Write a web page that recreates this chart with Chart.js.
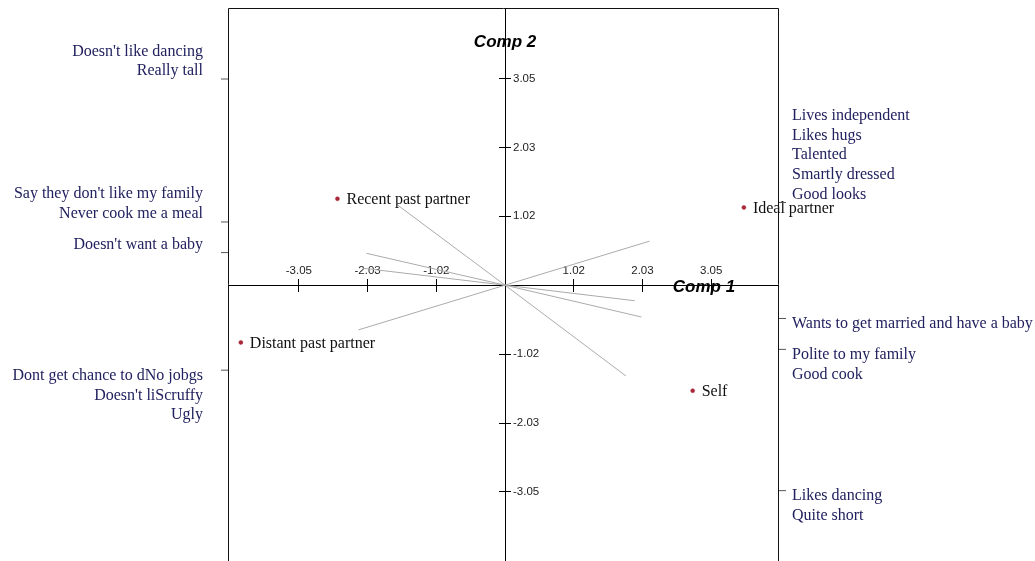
<!DOCTYPE html>
<html><head><meta charset="utf-8">
<script src="https://cdn.jsdelivr.net/npm/chart.js@4/dist/chart.umd.min.js"></script>
<style>html,body{margin:0;padding:0;background:#fff;} #wrap{width:1035px;height:561px;}</style>
</head><body><div id="wrap"><canvas id="c" width="1035" height="561"></canvas></div>
<script>
// ---- data ----
const pointNames = ['Recent past partner', 'Ideal partner', 'Distant past partner', 'Self'];
const pointX = [-2.48, 3.535, -3.91, 2.777];
const pointY = [1.275, 1.147, -0.845, -1.557];

const vectorX = [-1.60, -2.05, -2.10, -2.17, 2.14, 1.92, 2.02, 1.79];
const vectorY = [1.19, 0.47, 0.25, -0.66, 0.65, -0.23, -0.47, -1.34];
const vectorLabels = [
  ["Doesn't like dancing", "Really tall"],
  ["Say they don't like my family", "Never cook me a meal"],
  ["Doesn't want a baby"],
  ["Dont get chance to dNo jobgs", "Doesn't liScruffy", "Ugly"],
  ["Lives independent", "Likes hugs", "Talented", "Smartly dressed", "Good looks"],
  ["Wants to get married and have a baby"],
  ["Polite to my family", "Good cook"],
  ["Likes dancing", "Quite short"]
];

const tickValues = [-3.051, -2.034, -1.017, 1.017, 2.034, 3.051];
const tickLabels = ['-3.05', '-2.03', '-1.02', '1.02', '2.03', '3.05'];
const axisTitles = ['Comp 1', 'Comp 2'];

// ---- chart ----
const SERIF = '"Liberation Serif", "Times New Roman", serif';
const SANS = '"Liberation Sans", Arial, sans-serif';
const tickFont = {family: SANS, size: 11.5};
const setTicks = s => { s.ticks = tickValues.map(v => ({value: v})); };
const noPad = s => { s.paddingLeft = 0; s.paddingRight = 0; s.paddingTop = 0; s.paddingBottom = 0; };
const X_RANGE = {min: -4.1, max: 4.04};
const Y_RANGE = {min: -4.07, max: 4.09};

const datasets = vectorX.map((vx, i) => ({
  type: 'scatter',
  data: [{x: 0, y: 0}, {x: vx, y: vectorY[i]}],
  showLine: true,
  borderColor: '#ababab',
  borderWidth: 1,
  pointRadius: 0,
  pointHoverRadius: 0
}));
datasets.push({
  type: 'scatter',
  data: pointX.map((x, i) => ({x, y: pointY[i]})),
  pointRadius: 2,
  pointBorderWidth: 0.5,
  pointBackgroundColor: '#a8283a',
  pointBorderColor: '#a8283a',
  borderWidth: 0
});
const POINTS_INDEX = datasets.length - 1;

const overlay = {
  id: 'overlay',
  beforeDraw(chart) {
    const ys = chart.scales.y;
    const x0 = chart.scales.x.getPixelForValue(0);
    ys.getLabelItems().forEach(it => {
      it.options.textAlign = 'left';
      it.options.translation[0] = x0 + 8;
    });
  },
  afterDraw(chart) {
    const ctx = chart.ctx;
    const {left, right, top, bottom} = chart.chartArea;
    const xs = chart.scales.x, ys = chart.scales.y;
    ctx.save();
    // frame
    ctx.strokeStyle = '#111';
    ctx.lineWidth = 1;
    ctx.beginPath();
    ctx.moveTo(left + 0.5, bottom);
    ctx.lineTo(left + 0.5, top + 0.5);
    ctx.lineTo(right + 0.5, top + 0.5);
    ctx.lineTo(right + 0.5, bottom);
    ctx.stroke();

    // axis titles
    ctx.fillStyle = '#000';
    ctx.font = 'italic bold 17px ' + SANS;
    ctx.textAlign = 'center';
    ctx.textBaseline = 'middle';
    ctx.fillText(axisTitles[0], right - 74, ys.getPixelForValue(0) + 2);
    ctx.fillText(axisTitles[1], xs.getPixelForValue(0), top + 34);

    // point labels
    const meta = chart.getDatasetMeta(POINTS_INDEX);
    ctx.font = '16px ' + SERIF;
    ctx.textAlign = 'left';
    ctx.fillStyle = '#111';
    meta.data.forEach((el, i) => {
      ctx.fillText(pointNames[i], el.x + 9, el.y + 1);
    });

    // construct pole labels at the border where each vector direction meets it
    const LH = 19.7;
    vectorX.forEach((vx, i) => {
      const vy = vectorY[i];
      const bx = vx < 0 ? xs.min : xs.max;
      const by = vy * bx / vx;
      const py = ys.getPixelForValue(by);
      const px = xs.getPixelForValue(bx);
      const lines = vectorLabels[i];
      ctx.strokeStyle = '#555';
      ctx.beginPath();
      if (vx < 0) { ctx.moveTo(px - 7, py + 0.5); ctx.lineTo(px, py + 0.5); }
      else { ctx.moveTo(px + 1, py + 0.5); ctx.lineTo(px + 8, py + 0.5); }
      ctx.stroke();
      ctx.fillStyle = '#21215f';
      ctx.font = '16px ' + SERIF;
      ctx.textAlign = vx < 0 ? 'right' : 'left';
      const tx = vx < 0 ? px - 25 : px + 14;
      let y0 = by > 0 ? py - 7.5 - (lines.length - 1) * LH : py + 6;
      lines.forEach((t, k) => ctx.fillText(t, tx, y0 + k * LH));
    });
    ctx.restore();
  }
};

new Chart(document.getElementById('c'), {
  type: 'scatter',
  data: {datasets},
  options: {
    responsive: false,
    animation: false,
    events: [],
    layout: {autoPadding: false, padding: {left: 228, right: 257, top: 8, bottom: 0}},
    plugins: {legend: {display: false}, tooltip: {enabled: false}},
    scales: {
      x: {
        type: 'linear', axis: 'x', ...X_RANGE, position: {y: 0},
        afterBuildTicks: setTicks, afterFit: noPad,
        border: {display: true, color: '#000', width: 1},
        grid: {drawOnChartArea: false, drawTicks: true, tickLength: 6, color: '#000'},
        ticks: {autoSkip: false, maxRotation: 0, padding: -27, color: '#222', font: tickFont,
                callback: (v, i) => tickLabels[i]}
      },
      x2: {
        type: 'linear', axis: 'x', ...X_RANGE, position: {y: 0},
        afterBuildTicks: setTicks, afterFit: noPad,
        border: {display: false},
        grid: {drawOnChartArea: false, drawTicks: true, tickLength: -6, color: '#000'},
        ticks: {display: false}
      },
      y: {
        type: 'linear', axis: 'y', ...Y_RANGE, position: {x: 0},
        afterBuildTicks: setTicks, afterFit: noPad,
        border: {display: true, color: '#000', width: 1},
        grid: {drawOnChartArea: false, drawTicks: true, tickLength: 6, color: '#000'},
        ticks: {autoSkip: false, padding: 0, color: '#222', font: tickFont,
                callback: (v, i) => tickLabels[i]}
      },
      y2: {
        type: 'linear', axis: 'y', ...Y_RANGE, position: {x: 0},
        afterBuildTicks: setTicks, afterFit: noPad,
        border: {display: false},
        grid: {drawOnChartArea: false, drawTicks: true, tickLength: -6, color: '#000'},
        ticks: {display: false}
      }
    }
  },
  plugins: [overlay]
});
</script>
</body></html>
